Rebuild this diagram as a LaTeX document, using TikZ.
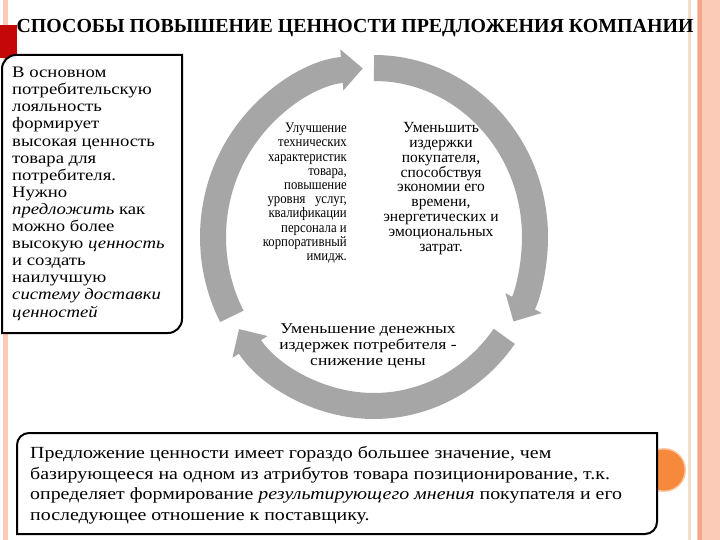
\documentclass[tikz,border=0pt]{standalone}
\usepackage{fontspec}
\setmainfont{Liberation Serif}
\newfontfamily\widefont[FakeStretch=1.17]{Liberation Serif}
\newfontfamily\narrowfont[FakeStretch=0.88]{Liberation Serif}
\usetikzlibrary{arrows.meta}
\definecolor{ringgray}{RGB}{166,166,166}
\definecolor{darkred}{RGB}{196,8,8}
\definecolor{salmon}{RGB}{251,203,184}
\definecolor{salmondark}{RGB}{243,165,138}
\definecolor{cream}{RGB}{242,222,204}
\definecolor{orange}{RGB}{247,137,61}
\definecolor{orangelight}{RGB}{251,200,165}
\tikzstyle{txt}=[inner sep=0, text=black]
\tikzstyle{ring}=[line width=26pt, color=ringgray, -{Triangle[length=21pt, width=40pt]}]
\tikzstyle{frame}=[line width=2pt, fill=white]

\begin{document}
\begin{tikzpicture}[x=1pt, y=1pt]
\useasboundingbox (0,0) rectangle (720,-540);
%\draw[help lines,step=20] (0,0) grid (720,-540);
\fill[white] (0,0) rectangle (720,-540);
% side stripes
\fill[salmon] (3,0) rectangle (8,-540);
\fill[cream] (688,0) rectangle (691,-540);
\fill[salmon] (697,0) rectangle (720,-540);
\fill[salmondark] (698,0) rectangle (702,-540);
\fill[darkred] (0,-25) rectangle (17,-58);
\node at (355,-33)[txt, anchor=base, font=\bfseries\fontsize{19.9}{22}\selectfont](title){СПОСОБЫ ПОВЫШЕНИЕ ЦЕННОСТИ ПРЕДЛОЖЕНИЯ КОМПАНИИ};
% left box
\draw[frame] (2,-333) -- (2,-69) arc[start angle=180, end angle=90, radius=14] -- (182,-55) -- (182,-319) arc[start angle=0, end angle=-90, radius=14] -- cycle;
\node at (12,-67)[txt, anchor=north west, align=left, font=\widefont\fontsize{16}{17.1}\selectfont](loyal){В основном\\потребительскую\\лояльность\\формирует\\высокая ценность\\товара для\\потребителя.\\Нужно\\\textit{предложить} как\\можно более\\высокую \textit{ценность}\\и создать\\наилучшую\\\textit{систему доставки}\\\textit{ценностей}};
% ring of arrows
\begin{scope}[shift={(374,-237)}]
\draw[ring] (208:161 and 169) arc[start angle=208, end angle=94, x radius=161, y radius=169];
\draw[ring] (90:161 and 169) arc[start angle=90, end angle=-30, x radius=161, y radius=169];
\draw[ring] (-36:161 and 169) arc[start angle=-36, end angle=-147, x radius=161, y radius=169];
\end{scope}
\node at (347,-123)[txt, anchor=north east, align=right, font=\narrowfont\fontsize{14.5}{14.2}\selectfont](tech){Улучшение\\технических\\характеристик\\товара,\\повышение\\уровня \ \ услуг,\\квалификации\\персонала и\\корпоративный\\имидж.};
\node at (441,-122)[txt, anchor=north, align=center, font=\fontsize{15.5}{14.9}\selectfont](cost){Уменьшить\\издержки\\покупателя,\\способствуя\\экономии его\\времени,\\энергетических и\\эмоциональных\\затрат.};
\node at (368,-323)[txt, anchor=north, align=center, font=\widefont\fontsize{15}{16}\selectfont](price){Уменьшение денежных\\издержек потребителя -\\снижение цены};
% bottom box
\fill[orangelight] (664,-470) circle (22);
\fill[orange] (664,-470) circle (20.5);
\draw[frame] (17,-534) -- (17,-445) arc[start angle=180, end angle=90, radius=12] -- (657,-433) -- (657,-522) arc[start angle=0, end angle=-90, radius=12] -- cycle;
\node at (30,-446)[txt, anchor=north west, align=left, font=\widefont\fontsize{17}{20.7}\selectfont](offer){Предложение ценности имеет гораздо большее значение, чем\\базирующееся на одном из атрибутов товара позиционирование, т.к.\\определяет формирование \textit{результирующего мнения} покупателя и его\\последующее отношение к поставщику.};
\end{tikzpicture}
\end{document}
